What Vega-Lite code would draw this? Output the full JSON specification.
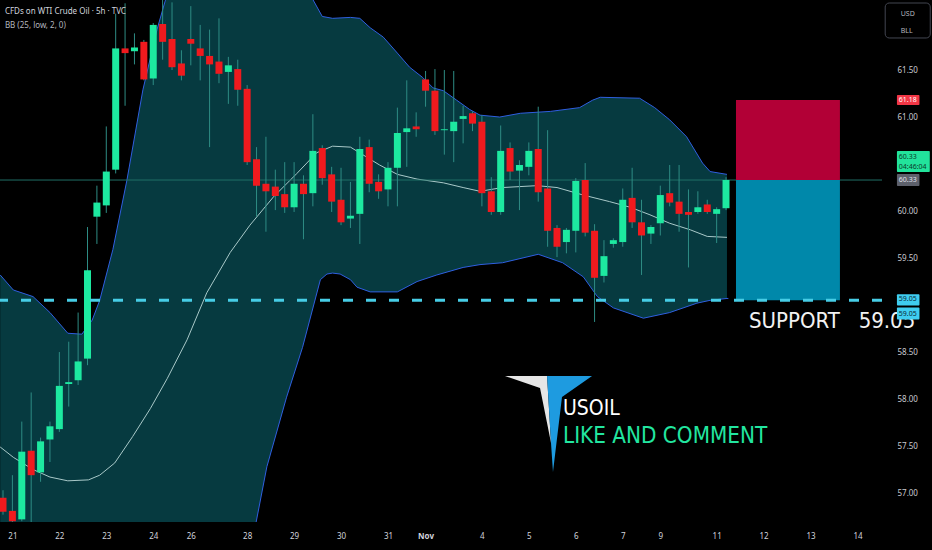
{
  "$schema": "https://vega.github.io/schema/vega-lite/v6.json",
  "width": 882,
  "height": 522,
  "autosize": {"type": "none"},
  "padding": {"left": 0, "top": 0, "right": 50, "bottom": 28},
  "background": "#000000",
  "config": {"view": {"stroke": null}, "scale": {"continuousPadding": 0}},
  "datasets": {
    "candles": [
      {"k":0,"o":56.95,"h":57.03,"l":56.77,"c":56.80},
      {"k":1,"o":56.81,"h":57.19,"l":56.66,"c":56.70},
      {"k":2,"o":56.72,"h":57.76,"l":56.70,"c":57.44},
      {"k":3,"o":57.45,"h":58.07,"l":56.63,"c":57.19},
      {"k":4,"o":57.22,"h":57.59,"l":57.12,"c":57.55},
      {"k":5,"o":57.57,"h":57.76,"l":57.33,"c":57.71},
      {"k":6,"o":57.68,"h":58.50,"l":57.65,"c":58.14},
      {"k":7,"o":58.16,"h":58.61,"l":57.92,"c":58.18},
      {"k":8,"o":58.20,"h":58.92,"l":58.15,"c":58.40},
      {"k":9,"o":58.43,"h":59.83,"l":58.36,"c":59.37},
      {"k":10,"o":59.94,"h":60.27,"l":59.65,"c":60.09},
      {"k":11,"o":60.06,"h":60.90,"l":59.98,"c":60.42},
      {"k":12,"o":60.44,"h":62.10,"l":60.40,"c":61.73},
      {"k":13,"o":61.73,"h":62.21,"l":61.12,"c":61.68},
      {"k":14,"o":61.70,"h":61.89,"l":61.56,"c":61.74},
      {"k":15,"o":61.80,"h":61.82,"l":61.39,"c":61.40},
      {"k":16,"o":61.41,"h":62.00,"l":61.34,"c":61.98},
      {"k":17,"o":61.99,"h":62.30,"l":61.61,"c":61.80},
      {"k":18,"o":61.83,"h":62.22,"l":61.50,"c":61.53},
      {"k":19,"o":61.57,"h":61.71,"l":61.39,"c":61.44},
      {"k":20,"o":61.83,"h":62.18,"l":61.55,"c":61.78},
      {"k":21,"o":61.73,"h":61.98,"l":61.39,"c":61.65},
      {"k":22,"o":61.65,"h":61.93,"l":60.68,"c":61.56},
      {"k":23,"o":61.59,"h":62.05,"l":61.36,"c":61.46},
      {"k":24,"o":61.48,"h":61.64,"l":61.14,"c":61.55},
      {"k":25,"o":61.51,"h":61.61,"l":61.12,"c":61.29},
      {"k":26,"o":61.30,"h":61.34,"l":60.49,"c":60.52},
      {"k":27,"o":60.55,"h":60.68,"l":59.94,"c":60.27},
      {"k":28,"o":60.29,"h":60.79,"l":59.78,"c":60.21},
      {"k":29,"o":60.26,"h":60.44,"l":60.01,"c":60.16},
      {"k":30,"o":60.18,"h":60.52,"l":59.98,"c":60.04},
      {"k":31,"o":60.04,"h":60.52,"l":59.99,"c":60.29},
      {"k":32,"o":60.29,"h":60.38,"l":59.70,"c":60.18},
      {"k":33,"o":60.19,"h":61.03,"l":60.05,"c":60.64},
      {"k":34,"o":60.67,"h":60.70,"l":60.28,"c":60.35},
      {"k":35,"o":60.39,"h":60.47,"l":59.99,"c":60.10},
      {"k":36,"o":60.12,"h":60.46,"l":59.85,"c":59.88},
      {"k":37,"o":59.92,"h":60.31,"l":59.82,"c":59.95},
      {"k":38,"o":59.97,"h":60.79,"l":59.65,"c":60.66},
      {"k":39,"o":60.68,"h":60.76,"l":60.20,"c":60.29},
      {"k":40,"o":60.31,"h":60.39,"l":60.13,"c":60.21},
      {"k":41,"o":60.23,"h":60.52,"l":60.05,"c":60.46},
      {"k":42,"o":60.46,"h":61.10,"l":60.05,"c":60.83},
      {"k":43,"o":60.84,"h":61.39,"l":60.47,"c":60.88},
      {"k":44,"o":60.90,"h":61.05,"l":60.79,"c":60.87},
      {"k":45,"o":61.40,"h":61.49,"l":61.11,"c":61.28},
      {"k":46,"o":61.28,"h":61.51,"l":60.81,"c":60.85},
      {"k":47,"o":60.86,"h":61.50,"l":60.60,"c":60.87},
      {"k":48,"o":60.85,"h":61.49,"l":60.52,"c":60.95},
      {"k":49,"o":60.98,"h":61.12,"l":60.72,"c":61.01},
      {"k":50,"o":61.04,"h":61.06,"l":60.85,"c":60.93},
      {"k":51,"o":60.95,"h":61.02,"l":60.05,"c":60.19},
      {"k":52,"o":60.21,"h":60.36,"l":59.96,"c":59.99},
      {"k":53,"o":59.99,"h":60.91,"l":59.96,"c":60.64},
      {"k":54,"o":60.67,"h":60.73,"l":60.33,"c":60.42},
      {"k":55,"o":60.43,"h":60.54,"l":60.01,"c":60.49},
      {"k":56,"o":60.47,"h":60.73,"l":60.38,"c":60.64},
      {"k":57,"o":60.66,"h":61.11,"l":60.10,"c":60.20},
      {"k":58,"o":60.24,"h":60.86,"l":59.62,"c":59.79},
      {"k":59,"o":59.82,"h":59.85,"l":59.51,"c":59.62},
      {"k":60,"o":59.67,"h":59.82,"l":59.55,"c":59.80},
      {"k":61,"o":59.79,"h":60.35,"l":59.56,"c":60.32},
      {"k":62,"o":60.33,"h":60.51,"l":59.73,"c":59.77},
      {"k":63,"o":59.79,"h":59.86,"l":58.82,"c":59.29},
      {"k":64,"o":59.31,"h":59.69,"l":59.24,"c":59.52},
      {"k":65,"o":59.65,"h":59.71,"l":59.61,"c":59.69},
      {"k":66,"o":59.67,"h":60.24,"l":59.62,"c":60.12},
      {"k":67,"o":60.14,"h":60.46,"l":59.82,"c":59.88},
      {"k":68,"o":59.88,"h":60.12,"l":59.32,"c":59.74},
      {"k":69,"o":59.76,"h":59.85,"l":59.65,"c":59.83},
      {"k":70,"o":59.87,"h":60.27,"l":59.74,"c":60.17},
      {"k":71,"o":60.19,"h":60.49,"l":60.05,"c":60.09},
      {"k":72,"o":60.10,"h":60.49,"l":59.78,"c":59.97},
      {"k":73,"o":59.99,"h":60.23,"l":59.40,"c":59.96},
      {"k":74,"o":59.99,"h":60.21,"l":59.97,"c":60.04},
      {"k":75,"o":60.07,"h":60.12,"l":59.97,"c":59.99},
      {"k":76,"o":59.97,"h":60.04,"l":59.66,"c":60.02},
      {"k":77,"o":60.03,"h":60.36,"l":60.01,"c":60.33}
    ],
    "upper": [
      {"k":-0.3,"p":59.32},{"k":1.1,"p":59.16},{"k":3.2,"p":59.09},{"k":5.0,"p":58.92},{"k":6.9,"p":58.70},{"k":8.4,"p":58.69},{"k":9.5,"p":58.84},{"k":10.3,"p":59.05},{"k":11.7,"p":59.59},{"k":13.2,"p":60.33},{"k":14.9,"p":61.29},{"k":16.4,"p":61.93},{"k":17.3,"p":62.245},{"k":18.8,"p":62.67},{"k":24.2,"p":62.99},{"k":29.5,"p":62.78},{"k":32.2,"p":62.40},{"k":33.0,"p":62.25},{"k":34.0,"p":62.07},{"k":35.1,"p":62.05},{"k":37.0,"p":62.06},{"k":38.0,"p":62.05},{"k":39.1,"p":61.95},{"k":40.5,"p":61.85},{"k":42.0,"p":61.68},{"k":43.3,"p":61.53},{"k":44.7,"p":61.42},{"k":45.8,"p":61.31},{"k":46.9,"p":61.28},{"k":48.3,"p":61.18},{"k":49.7,"p":61.08},{"k":50.8,"p":61.02},{"k":52.9,"p":61.00},{"k":55.1,"p":61.04},{"k":58.3,"p":61.06},{"k":61.4,"p":61.10},{"k":62.8,"p":61.18},{"k":63.6,"p":61.21},{"k":67.8,"p":61.20},{"k":69.4,"p":61.10},{"k":71.0,"p":60.97},{"k":72.8,"p":60.79},{"k":74.5,"p":60.51},{"k":75.3,"p":60.42},{"k":77.1,"p":60.39}
    ],
    "mid": [
      {"k":-0.3,"p":57.49},{"k":1.1,"p":57.38},{"k":3.2,"p":57.25},{"k":5.0,"p":57.17},{"k":6.9,"p":57.13},{"k":9.1,"p":57.14},{"k":10.3,"p":57.19},{"k":11.9,"p":57.32},{"k":13.8,"p":57.60},{"k":15.7,"p":57.90},{"k":17.5,"p":58.22},{"k":19.6,"p":58.63},{"k":21.7,"p":59.13},{"k":24.2,"p":59.56},{"k":26.3,"p":59.85},{"k":28.8,"p":60.15},{"k":31.3,"p":60.40},{"k":33.4,"p":60.62},{"k":35.1,"p":60.69},{"k":37.0,"p":60.68},{"k":38.3,"p":60.60},{"k":40.1,"p":60.49},{"k":42.0,"p":60.39},{"k":44.1,"p":60.34},{"k":46.9,"p":60.30},{"k":49.0,"p":60.25},{"k":50.8,"p":60.21},{"k":53.2,"p":60.25},{"k":56.9,"p":60.27},{"k":59.0,"p":60.25},{"k":61.8,"p":60.17},{"k":64.6,"p":60.10},{"k":66.8,"p":60.04},{"k":68.9,"p":59.96},{"k":71.0,"p":59.87},{"k":73.2,"p":59.80},{"k":75.0,"p":59.73},{"k":77.1,"p":59.72}
    ],
    "lower": [
      {"k":-0.3,"p":55.65},{"k":6.1,"p":54.80},{"k":12.5,"p":54.58},{"k":18.8,"p":55.01},{"k":24.2,"p":55.86},{"k":26.8,"p":56.61},{"k":28.1,"p":57.28},{"k":30.2,"p":58.02},{"k":31.9,"p":58.55},{"k":33.8,"p":59.27},{"k":34.5,"p":59.33},{"k":35.1,"p":59.34},{"k":35.9,"p":59.33},{"k":37.0,"p":59.27},{"k":37.7,"p":59.19},{"k":39.1,"p":59.14},{"k":42.0,"p":59.14},{"k":44.1,"p":59.25},{"k":46.2,"p":59.32},{"k":49.0,"p":59.40},{"k":50.8,"p":59.43},{"k":53.2,"p":59.45},{"k":57.0,"p":59.54},{"k":59.6,"p":59.45},{"k":61.8,"p":59.30},{"k":63.3,"p":59.09},{"k":65.0,"p":58.97},{"k":68.2,"p":58.86},{"k":71.0,"p":58.92},{"k":73.9,"p":59.02},{"k":75.3,"p":59.05},{"k":77.1,"p":59.07},{"k":77.25,"p":59.07}
    ],
    "boxes": [
      {"x0":78.06,"x1":89.13,"lo":60.33,"hi":61.18,"fc":"#b20036"},
      {"x0":78.06,"x1":89.13,"lo":59.05,"hi":60.33,"fc":"#0088aa"}
    ],
    "logoWhite": [
      {"k":53.46,"t":58.245,"b":58.245},{"k":57.19,"t":58.245,"b":58.117},{"k":57.94,"t":58.245,"b":57.745},{"k":58.36,"t":57.532,"b":57.532}
    ],
    "logoBlue": [
      {"k":57.94,"t":58.245,"b":58.245},{"k":58.36,"t":58.245,"b":57.532},{"k":58.57,"t":58.245,"b":57.224},{"k":59.53,"t":58.245,"b":58.022},{"k":62.73,"t":58.245,"b":58.245}
    ],
    "tags": [
      {"x0":95.2,"x1":97.6,"y0":61.235,"y1":61.128,"fc":"#f23645"},
      {"x0":95.2,"x1":98.7,"y0":60.639,"y1":60.415,"fc":"#22e39b"},
      {"x0":95.2,"x1":97.6,"y0":60.394,"y1":60.266,"fc":"#5d606b"},
      {"x0":95.2,"x1":97.6,"y0":59.115,"y1":58.995,"fc":"#3fcdf0"},
      {"x0":95.2,"x1":97.6,"y0":58.975,"y1":58.845,"fc":"#3fcdf0"}
    ],
    "tagText": [
      {"k":95.4,"p":61.18,"t":"61.18","tc":"#ffffff"},
      {"k":95.4,"p":60.575,"t":"60.33","tc":"#0b3a2a"},
      {"k":95.4,"p":60.468,"t":"04:46:04","tc":"#0b3a2a"},
      {"k":95.4,"p":60.33,"t":"60.33","tc":"#e0e3eb"},
      {"k":95.4,"p":59.06,"t":"59.05","tc":"#0b2a36"},
      {"k":95.4,"p":58.905,"t":"59.05","tc":"#0b2a36"},
      {"k":95.6,"p":62.10,"t":"USD","tc":"#b2b5be"},
      {"k":95.6,"p":61.92,"t":"BLL","tc":"#b2b5be"}
    ],
    "header": [
      {"k":0.2,"p":62.12,"t":"CFDs on WTI Crude Oil · 5h · TVC","w":"bold","tc":"#d1d4dc"},
      {"k":0.2,"p":61.965,"t":"BB (25, low, 2, 0)","w":"normal","tc":"#b2b5be"}
    ],
    "bigText": [
      {"k":79.45,"p":58.76,"t":"SUPPORT\u00a0\u00a0\u00a059.05","tc":"#f2f2f2","s":22,"w":"normal"},
      {"k":59.64,"p":57.83,"t":"USOIL","tc":"#ffffff","s":21,"w":"bold"},
      {"k":59.64,"p":57.53,"t":"LIKE AND COMMENT","tc":"#22e6a0","s":22.3,"w":"normal"}
    ],
    "axbox": [
      {"x0":93.95,"x1":98.75,"y0":62.213,"y1":61.841}
    ]
  },
  "layer": [
    {
      "data": {"name": "upper"},
      "mark": {"type": "area", "color": "#063a40", "clip": true},
      "encoding": {
        "x": {"field": "k", "type": "quantitative", "scale": {"domain": [-0.32, 93.61], "nice": false, "zero": false, "padding": 0},
          "axis": {"orient": "bottom", "values": [1,6,11,16,20,26,31,36,41,45,51,56,61,66,70,76,81,86,91],
            "labelExpr": "['21','22','23','24','26','28','29','30','31','Nov','4','5','6','7','9','11','12','13','14'][indexof([1,6,11,16,20,26,31,36,41,45,51,56,61,66,70,76,81,86,91], datum.value)]",
            "domain": false, "ticks": false, "grid": false, "labelColor": "#d1d4dc", "labelFontSize": 8, "labelFont": "Noto Sans", "labelPadding": 10, "title": null, "labelFlush": false, "labelOverlap": false,
            "labelFontWeight": {"condition": {"test": "datum.value == 45", "value": "bold"}, "value": "normal"}}},
        "y": {"field": "p", "type": "quantitative", "scale": {"domain": [56.692, 62.245], "nice": false, "zero": false, "padding": 0},
          "axis": {"orient": "right", "values": [57, 57.5, 58, 58.5, 59.5, 60, 61, 61.5], "format": ".2f", "domain": false, "ticks": false, "grid": false,
            "labelColor": "#c8cad0", "labelFontSize": 8, "labelFont": "Noto Sans", "labelPadding": 15, "title": null, "labelOverlap": false, "labelFlush": false}},
        "y2": {"datum": 55}
      }
    },
    {
      "data": {"name": "lower"},
      "mark": {"type": "area", "color": "#000000", "clip": true},
      "encoding": {
        "x": {"field": "k", "type": "quantitative"},
        "y": {"field": "p", "type": "quantitative"},
        "y2": {"datum": 55}
      }
    },
    {
      "data": {"name": "upper"},
      "mark": {"type": "line", "color": "#2f5fe0", "strokeWidth": 1, "clip": true},
      "encoding": {
        "x": {"field": "k", "type": "quantitative"},
        "y": {"field": "p", "type": "quantitative"}
      }
    },
    {
      "data": {"name": "lower"},
      "mark": {"type": "line", "color": "#2f5fe0", "strokeWidth": 1, "clip": true},
      "encoding": {
        "x": {"field": "k", "type": "quantitative"},
        "y": {"field": "p", "type": "quantitative"}
      }
    },
    {
      "data": {"name": "mid"},
      "mark": {"type": "line", "color": "#a9c9c9", "strokeWidth": 1, "clip": true},
      "encoding": {
        "x": {"field": "k", "type": "quantitative"},
        "y": {"field": "p", "type": "quantitative"}
      }
    },
    {
      "data": {"values": [{"p": 60.33}]},
      "mark": {"type": "rule", "color": "#1f6e66", "strokeWidth": 1},
      "encoding": {
        "y": {"field": "p", "type": "quantitative"}
      }
    },
    {
      "data": {"name": "boxes"},
      "mark": {"type": "rect", "clip": true},
      "encoding": {
        "x": {"field": "x0", "type": "quantitative"},
        "x2": {"field": "x1"},
        "y": {"field": "hi", "type": "quantitative"},
        "y2": {"field": "lo"},
        "color": {"field": "fc", "type": "nominal", "scale": null, "legend": null}
      }
    },
    {
      "data": {"name": "candles"},
      "mark": {"type": "rule", "color": "#2e8c84", "strokeWidth": 1, "clip": true},
      "encoding": {
        "x": {"field": "k", "type": "quantitative"},
        "y": {"field": "l", "type": "quantitative"},
        "y2": {"field": "h"}
      }
    },
    {
      "data": {"name": "candles"},
      "mark": {"type": "bar", "size": 7, "clip": true},
      "encoding": {
        "x": {"field": "k", "type": "quantitative"},
        "y": {"field": "o", "type": "quantitative"},
        "y2": {"field": "c"},
        "color": {"condition": {"test": "datum.c >= datum.o", "value": "#1de9a0"}, "value": "#f01a1e"}
      }
    },
    {
      "data": {"values": [{"p": 59.05}]},
      "mark": {"type": "rule", "color": "#47cde6", "strokeWidth": 3, "strokeDash": [10, 13]},
      "encoding": {
        "y": {"field": "p", "type": "quantitative"}
      }
    },
    {
      "data": {"name": "logoWhite"},
      "mark": {"type": "area", "orient": "vertical", "color": "#e6e6e6"},
      "encoding": {
        "x": {"field": "k", "type": "quantitative"},
        "y": {"field": "t", "type": "quantitative"},
        "y2": {"field": "b"}
      }
    },
    {
      "data": {"name": "logoBlue"},
      "mark": {"type": "area", "orient": "vertical", "color": "#1e9be0"},
      "encoding": {
        "x": {"field": "k", "type": "quantitative"},
        "y": {"field": "t", "type": "quantitative"},
        "y2": {"field": "b"}
      }
    },
    {
      "data": {"name": "bigText"},
      "mark": {"type": "text", "align": "left", "baseline": "alphabetic", "font": "Liberation Sans Narrow, DejaVu Sans Condensed, Roboto"},
      "encoding": {
        "x": {"field": "k", "type": "quantitative"},
        "y": {"field": "p", "type": "quantitative"},
        "text": {"field": "t"},
        "color": {"field": "tc", "type": "nominal", "scale": null, "legend": null},
        "size": {"field": "s", "type": "quantitative", "scale": null, "legend": null},
        "fontWeight": {"field": "w", "type": "nominal", "scale": null, "legend": null}
      }
    },
    {
      "data": {"name": "header"},
      "mark": {"type": "text", "align": "left", "baseline": "middle", "fontSize": 8, "font": "Noto Sans"},
      "encoding": {
        "x": {"field": "k", "type": "quantitative"},
        "y": {"field": "p", "type": "quantitative"},
        "text": {"field": "t"},
        "color": {"field": "tc", "type": "nominal", "scale": null, "legend": null},
        "fontWeight": {"field": "w", "type": "nominal", "scale": null, "legend": null}
      }
    },
    {
      "data": {"name": "axbox"},
      "mark": {"type": "rect", "fill": "#000000", "stroke": "#434651", "strokeWidth": 1, "cornerRadius": 4},
      "encoding": {
        "x": {"field": "x0", "type": "quantitative"},
        "x2": {"field": "x1"},
        "y": {"field": "y0", "type": "quantitative"},
        "y2": {"field": "y1"}
      }
    },
    {
      "data": {"name": "tags"},
      "mark": {"type": "rect", "cornerRadius": 1},
      "encoding": {
        "x": {"field": "x0", "type": "quantitative"},
        "x2": {"field": "x1"},
        "y": {"field": "y0", "type": "quantitative"},
        "y2": {"field": "y1"},
        "color": {"field": "fc", "type": "nominal", "scale": null, "legend": null}
      }
    },
    {
      "data": {"name": "tagText"},
      "mark": {"type": "text", "align": "left", "baseline": "middle", "fontSize": 7, "font": "Noto Sans"},
      "encoding": {
        "x": {"field": "k", "type": "quantitative"},
        "y": {"field": "p", "type": "quantitative"},
        "text": {"field": "t"},
        "color": {"field": "tc", "type": "nominal", "scale": null, "legend": null}
      }
    }
  ]
}
